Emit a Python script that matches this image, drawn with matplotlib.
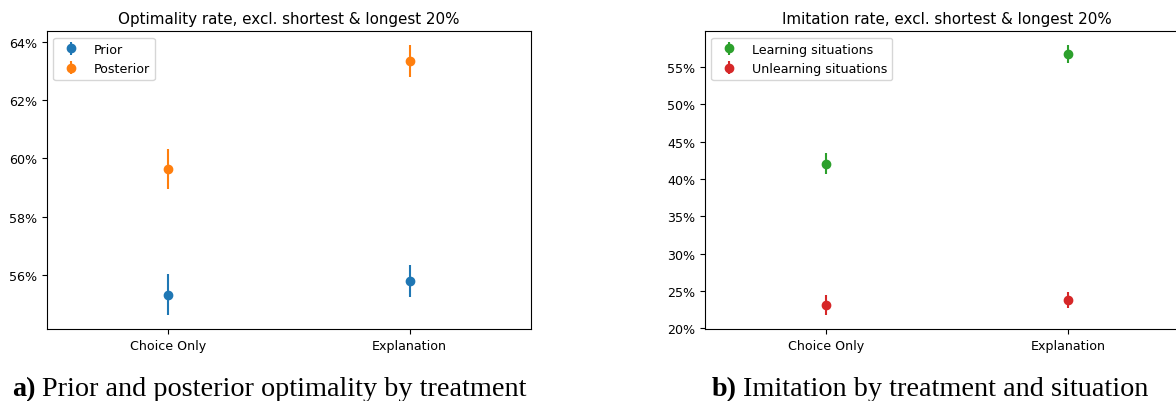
import matplotlib
matplotlib.use("Agg")
import matplotlib.pyplot as plt
from matplotlib.ticker import PercentFormatter

# Daten (Anteile)
treatments = ["Choice Only", "Explanation"]

prior = [0.5531, 0.5578]
prior_err = [0.0071, 0.0056]
posterior = [0.5963, 0.6335]
posterior_err = [0.0070, 0.0055]

learning = [0.4207, 0.5678]
learning_err = [0.0145, 0.0120]
unlearning = [0.2308, 0.2375]
unlearning_err = [0.0135, 0.0108]

W, H = 1176, 402
fig = plt.figure(figsize=(W / 100, H / 100), dpi=100)
plt.rcParams['font.size'] = 9.1

# Achsen-Positionen (Pixel -> Figurbruchteil)
ax1 = fig.add_axes([46.7 / W, 1 - 330 / H, 484 / W, 297.7 / H])
ax2 = fig.add_axes([705 / W, 1 - 330 / H, 484 / W, 297.7 / H])

x = list(range(len(treatments)))

ax1.errorbar(x, prior, yerr=prior_err, fmt='o', color='C0', label='Prior')
ax1.errorbar(x, posterior, yerr=posterior_err, fmt='o', color='C1', label='Posterior')
ax1.set_title('Optimality rate, excl. shortest & longest 20%', fontsize=10.9)

ax2.errorbar(x, learning, yerr=learning_err, fmt='o', color='C2', label='Learning situations')
ax2.errorbar(x, unlearning, yerr=unlearning_err, fmt='o', color='C3', label='Unlearning situations')
ax2.set_title('Imitation rate, excl. shortest & longest 20%', fontsize=10.9)

for ax in (ax1, ax2):
    ax.set_xticks(x)
    ax.set_xticklabels(treatments)
    ax.set_xlim(-0.5, 1.5)
    ax.yaxis.set_major_formatter(PercentFormatter(1.0, decimals=0))
    ax.legend(loc='upper left', fontsize=9.1)

# Bildunterschriften: fettes Label, dann normaler Text
renderer = fig.canvas.get_renderer()


def caption(x_px, label, text):
    y = 1 - 396 / H
    t = fig.text(x_px / W, y, label, family='Liberation Serif', fontsize=20.3,
                 fontweight='bold', va='baseline')
    bb = t.get_window_extent(renderer)
    fig.text((bb.x1 + 6) / W, y, text, family='Liberation Serif', fontsize=20.3,
             va='baseline')


caption(12, 'a)', 'Prior and posterior optimality by treatment')
caption(712, 'b)', 'Imitation by treatment and situation')

fig.savefig('out.png', dpi=100)
